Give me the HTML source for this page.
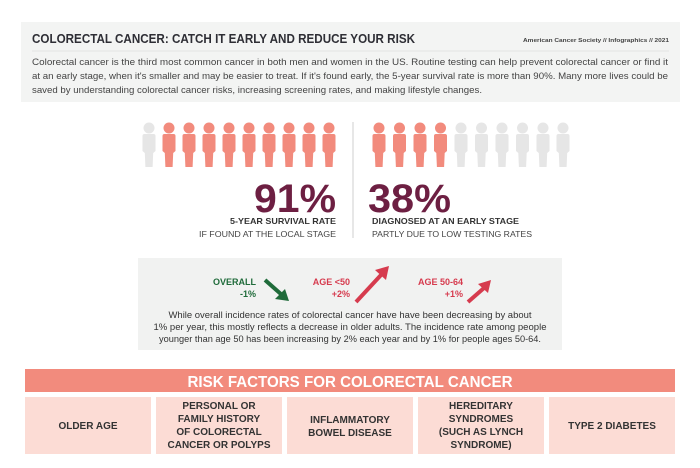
<!DOCTYPE html>
<html><head><meta charset="utf-8"><style>
html,body{margin:0;padding:0;background:#fff}
svg{display:block}
text{font-family:"Liberation Sans",sans-serif}
</style></head><body>
<svg width="700" height="468" viewBox="0 0 700 468" xmlns="http://www.w3.org/2000/svg">
<defs>
<g id="p"><circle cx="0" cy="128" r="5.5"/><path d="M-6.5,136 Q-6.5,134 -4.5,134 L4.5,134 Q6.5,134 6.5,136 L6.5,151 L4.2,153 L3.6,167 L-3.6,167 L-4.2,153 L-6.5,151 Z"/></g>
</defs>
<rect x="21" y="22" width="659" height="80" fill="#f3f4f3"/>
<text x="32" y="43" font-size="13" font-weight="bold" fill="#2e2e35" textLength="383" lengthAdjust="spacingAndGlyphs">COLORECTAL CANCER: CATCH IT EARLY AND REDUCE YOUR RISK</text>
<text x="669" y="42" font-size="5.5" font-weight="bold" fill="#444" text-anchor="end" textLength="146" lengthAdjust="spacingAndGlyphs">American Cancer Society  //  Infographics // 2021</text>
<line x1="32" y1="51" x2="669" y2="51" stroke="#e3e3e3" stroke-width="1"/>
<g font-size="9.3" fill="#444">
<text x="32" y="65" textLength="636" lengthAdjust="spacingAndGlyphs">Colorectal cancer is the third most common cancer in both men and women in the US. Routine testing can help prevent colorectal cancer or find it</text>
<text x="32" y="79" textLength="636" lengthAdjust="spacingAndGlyphs">at an early stage, when it's smaller and may be easier to treat. If it's found early, the 5-year survival rate is more than 90%. Many more lives could be</text>
<text x="32" y="93" textLength="450" lengthAdjust="spacingAndGlyphs">saved by understanding colorectal cancer risks, increasing screening rates, and making lifestyle changes.</text>
</g>
<g fill="#e6e6e6"><use href="#p" x="149"/></g>
<g fill="#f28b7d">
<use href="#p" x="169"/><use href="#p" x="189"/><use href="#p" x="209"/><use href="#p" x="229"/><use href="#p" x="249"/><use href="#p" x="269"/><use href="#p" x="289"/><use href="#p" x="309"/><use href="#p" x="329"/>
<use href="#p" x="379"/><use href="#p" x="399.5"/><use href="#p" x="420"/><use href="#p" x="440.5"/>
</g>
<g fill="#e6e6e6">
<use href="#p" x="461"/><use href="#p" x="481.5"/><use href="#p" x="502"/><use href="#p" x="522.5"/><use href="#p" x="543"/><use href="#p" x="563"/>
</g>
<line x1="353" y1="122" x2="353" y2="238" stroke="#cfcfcf" stroke-width="1"/>
<text x="336" y="212" font-size="40" font-weight="bold" fill="#6d1f42" text-anchor="end" textLength="82" lengthAdjust="spacingAndGlyphs">91%</text>
<text x="368" y="212" font-size="40" font-weight="bold" fill="#6d1f42" textLength="83" lengthAdjust="spacingAndGlyphs">38%</text>
<text x="336" y="224" font-size="8.5" font-weight="bold" fill="#333" text-anchor="end" textLength="106" lengthAdjust="spacingAndGlyphs">5-YEAR SURVIVAL RATE</text>
<text x="336" y="237" font-size="8.5" fill="#444" text-anchor="end" textLength="137" lengthAdjust="spacingAndGlyphs">IF FOUND AT THE LOCAL STAGE</text>
<text x="372" y="224" font-size="8.5" font-weight="bold" fill="#333" textLength="147" lengthAdjust="spacingAndGlyphs">DIAGNOSED AT AN EARLY STAGE</text>
<text x="372" y="237" font-size="8.5" fill="#444" textLength="160" lengthAdjust="spacingAndGlyphs">PARTLY DUE TO LOW TESTING RATES</text>
<rect x="138" y="258" width="424" height="92" fill="#f1f2f1"/>
<g font-size="9" font-weight="bold" text-anchor="end">
<text x="256" y="285" fill="#1f6b3a">OVERALL</text><text x="256" y="297" fill="#1f6b3a">-1%</text>
<text x="350" y="285" fill="#d63b4e">AGE &lt;50</text><text x="350" y="297" fill="#d63b4e">+2%</text>
<text x="463" y="285" fill="#d63b4e">AGE 50-64</text><text x="463" y="297" fill="#d63b4e">+1%</text>
</g>
<g stroke-width="4" stroke-linecap="butt">
<line x1="265" y1="280" x2="282" y2="295" stroke="#1f6b3a"/>
<polygon points="289,301 275,299 285,289" fill="#1f6b3a"/>
<line x1="356" y1="302" x2="381" y2="275" stroke="#d63b4e"/>
<polygon points="389,266 386,280 375,270" fill="#d63b4e"/>
<line x1="468" y1="302" x2="484" y2="288" stroke="#d63b4e"/>
<polygon points="491,280 488,293 478,284" fill="#d63b4e"/>
</g>
<g font-size="9" fill="#333" text-anchor="middle">
<text x="350" y="318" textLength="363" lengthAdjust="spacingAndGlyphs">While overall incidence rates of colorectal cancer have have been decreasing by about</text>
<text x="350" y="330" textLength="393" lengthAdjust="spacingAndGlyphs">1% per year, this mostly reflects a decrease in older adults. The incidence rate among people</text>
<text x="350" y="342" textLength="382" lengthAdjust="spacingAndGlyphs">younger than age 50 has been increasing by 2% each year and by 1% for people ages 50-64.</text>
</g>
<rect x="25" y="369" width="650" height="23" fill="#f28b7d"/>
<text x="350" y="387" font-size="16" font-weight="bold" fill="#fff" text-anchor="middle" textLength="325" lengthAdjust="spacingAndGlyphs">RISK FACTORS FOR COLORECTAL CANCER</text>
<g fill="#fcdcd5">
<rect x="25" y="397" width="126" height="57"/><rect x="156" y="397" width="126" height="57"/><rect x="287" y="397" width="126" height="57"/><rect x="418" y="397" width="126" height="57"/><rect x="549" y="397" width="126" height="57"/>
</g>
<g font-size="10" font-weight="bold" fill="#333" text-anchor="middle">
<text x="88" y="429">OLDER AGE</text>
<text x="219" y="409">PERSONAL OR</text><text x="219" y="422">FAMILY HISTORY</text><text x="219" y="435">OF COLORECTAL</text><text x="219" y="448">CANCER OR POLYPS</text>
<text x="350" y="423">INFLAMMATORY</text><text x="350" y="436">BOWEL DISEASE</text>
<text x="481" y="409">HEREDITARY</text><text x="481" y="422">SYNDROMES</text><text x="481" y="435">(SUCH AS LYNCH</text><text x="481" y="448">SYNDROME)</text>
<text x="612" y="429">TYPE 2 DIABETES</text>
</g>
</svg>
</body></html>
